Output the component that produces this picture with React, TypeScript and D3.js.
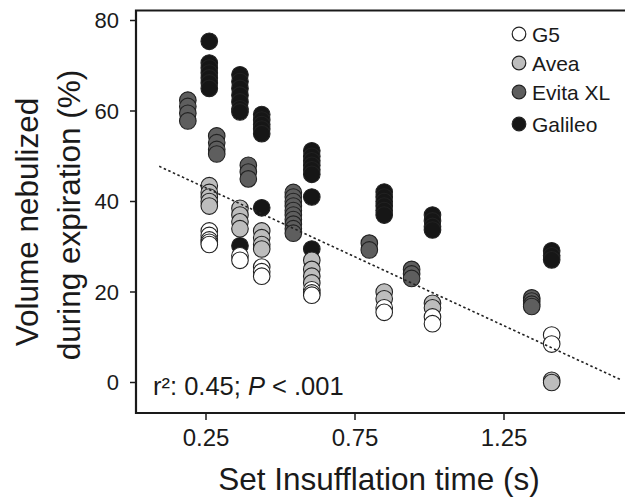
import React from "react";
import * as d3 from "d3";

// ---- data ----
const seriesNames = ["G5", "Avea", "Evita XL", "Galileo"];
const seriesFills = ["#ffffff", "#bdbdbd", "#5e5e5e", "#161616"];

const g5X = [0.261, 0.261, 0.261, 0.261, 0.261, 0.364, 0.364, 0.437, 0.437, 0.437, 0.605, 0.605, 0.605, 0.848, 0.848, 1.01, 1.01, 1.41, 1.41];
const g5Y = [33.5, 32.5, 31.5, 31, 30.5, 28, 27, 25.5, 24.5, 23.5, 20.5, 19.8, 19.3, 16.5, 15.5, 14.5, 13, 10.5, 8.5];

const aveaX = [0.261, 0.261, 0.261, 0.261, 0.261, 0.364, 0.364, 0.364, 0.364, 0.437, 0.437, 0.437, 0.437, 0.605, 0.605, 0.605, 0.605, 0.848, 0.848, 1.01, 1.01, 1.41, 1.41];
const aveaY = [43.5, 42, 41, 40, 39, 38.5, 37, 35.5, 34, 33.5, 32, 30.5, 29.5, 27, 25, 23.5, 22, 20, 18.5, 17.5, 16.5, 0.5, 0];

const evitaX = [0.189, 0.189, 0.189, 0.189, 0.286, 0.286, 0.286, 0.286, 0.392, 0.392, 0.392, 0.543, 0.543, 0.543, 0.543, 0.543, 0.543, 0.543, 0.543, 0.543, 0.543, 0.798, 0.798, 0.94, 0.94, 0.94, 1.343, 1.343, 1.343, 1.343];
const evitaY = [62.4, 61, 59.5, 57.8, 54.5, 53, 51.5, 50.5, 48, 46.5, 45, 42, 41, 40, 39, 38, 37, 36, 35, 34, 33, 30.8, 29.3, 25, 24, 23, 18.7, 18, 17.3, 16.8];

const galileoX = [0.261, 0.261, 0.261, 0.261, 0.261, 0.261, 0.261, 0.364, 0.364, 0.364, 0.364, 0.364, 0.364, 0.364, 0.364, 0.437, 0.437, 0.437, 0.437, 0.437, 0.437, 0.605, 0.605, 0.605, 0.605, 0.605, 0.605, 0.605, 0.605, 0.848, 0.848, 0.848, 0.848, 0.848, 0.848, 1.01, 1.01, 1.01, 1.01, 1.41, 1.41, 1.41];
const galileoY = [75.4, 70.6, 69.5, 68.4, 67.3, 66.2, 65.0, 68, 66.5, 65, 63.5, 62, 60.5, 59.8, 30.2, 59.2, 58, 57, 56, 55, 38.6, 51.2, 50, 49, 48, 47, 46, 41, 29.5, 42.1, 41, 40, 39, 38, 37, 37, 35.7, 34.5, 33.7, 29.1, 28, 27.1];

const xTicks = [0.25, 0.75, 1.25];
const yTicks = [0, 20, 40, 60, 80];
const fitX = [0.093, 1.64];
const fitIntercept = 50.6;
const fitSlope = -30.45;

const FONT = "'Liberation Sans', Arial, sans-serif";

export default function App() {
  const W = 625, H = 498;
  const x = d3.scaleLinear().domain([0.25, 1.25]).range([206, 504]);
  const y = d3.scaleLinear().domain([0, 80]).range([382.5, 20.5]);
  const frameL = 136, frameT = 10.5, frameB = 413, frameR = 625;

  const series = [
    { name: seriesNames[0], fill: seriesFills[0], xs: g5X, ys: g5Y },
    { name: seriesNames[1], fill: seriesFills[1], xs: aveaX, ys: aveaY },
    { name: seriesNames[2], fill: seriesFills[2], xs: evitaX, ys: evitaY },
    { name: seriesNames[3], fill: seriesFills[3], xs: galileoX, ys: galileoY },
  ];
  const drawOrder = [...series].reverse();

  const fitLine = d3.line<number>().x((v) => x(v)).y((v) => y(fitIntercept + fitSlope * v));

  const legendY = [34, 63, 92, 124];

  return (
    <svg width={W} height={H} style={{ position: "absolute", left: 0, top: 0, background: "#fff" }} fontFamily={FONT}>
      <rect x={0} y={0} width={W} height={H} fill="#fff" />
      {/* points */}
      {drawOrder.map((s) => (
        <g key={s.name}>
          {s.xs.map((xv, i) => (
            <circle key={i} cx={x(xv)} cy={y(s.ys[i])} r={8.3} fill={s.fill} stroke="#222" strokeWidth={1.1} />
          ))}
        </g>
      ))}
      {/* regression line */}
      <path d={fitLine(fitX) || ""} fill="none" stroke="#222" strokeWidth={1.6} strokeDasharray="2.5,2.5" />

      {/* frame */}
      <path d={`M${frameR},${frameT}H${frameL}V${frameB}H${frameR}`} fill="none" stroke="#1a1a1a" strokeWidth={2.2} />

      {/* y axis ticks */}
      {yTicks.map((t) => (
        <g key={t}>
          <line x1={frameL - 6} x2={frameL} y1={y(t)} y2={y(t)} stroke="#1a1a1a" strokeWidth={1.5} />
          <text x={119} y={y(t)} dy="0.36em" textAnchor="end" fontSize={22} fill="#1a1a1a">{t}</text>
        </g>
      ))}
      {/* x axis ticks */}
      {xTicks.map((t) => (
        <g key={t}>
          <line x1={x(t)} x2={x(t)} y1={frameB} y2={frameB + 7} stroke="#1a1a1a" strokeWidth={1.5} />
          <text x={x(t)} y={446} textAnchor="middle" fontSize={24} fill="#1a1a1a">{d3.format(".2f")(t)}</text>
        </g>
      ))}

      {/* axis titles */}
      <text x={379} y={490} textAnchor="middle" fontSize={31.5} fill="#1a1a1a">Set Insufflation time (s)</text>
      <text transform={`translate(37.5,222) rotate(-90)`} textAnchor="middle" fontSize={31.5} fill="#1a1a1a">Volume nebulized</text>
      <text transform={`translate(79.5,215) rotate(-90)`} textAnchor="middle" fontSize={31.5} fill="#1a1a1a">during expiration (%)</text>

      {/* stats annotation */}
      <text x={153} y={395} fontSize={25.5} fill="#1a1a1a">
        r²: 0.45; <tspan fontStyle="italic">P</tspan> &lt; .001
      </text>

      {/* legend */}
      {series.map((s, i) => (
        <g key={s.name}>
          <circle cx={519} cy={legendY[i]} r={6.8} fill={s.fill} stroke="#222" strokeWidth={1.2} />
          <text x={532} y={legendY[i]} dy="0.36em" fontSize={21} fill="#1a1a1a">{s.name}</text>
        </g>
      ))}
    </svg>
  );
}
